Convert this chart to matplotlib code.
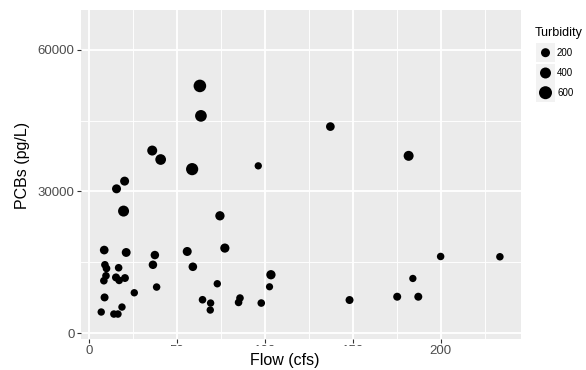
import matplotlib
matplotlib.use('Agg')
import matplotlib.pyplot as plt
from matplotlib.patches import Rectangle
import numpy as np

#%%

flow = [63.1, 63.7, 36.0, 40.8, 58.7, 96.3, 15.7, 20.3, 19.7, 74.5,
        8.7, 21.2, 37.5, 55.9, 77.3, 36.4, 59.1, 9.1, 10.0, 16.9,
        9.7, 8.5, 15.4, 17.2, 20.5, 38.5, 25.8, 8.9, 18.8, 7.0,
        14.2, 16.5, 73.0, 64.6, 69.2, 69.0, 85.9, 85.1, 98.0, 103.5,
        102.7, 137.3, 181.8, 148.2, 175.3, 187.3, 184.2, 200.0, 233.7]

pcbs = [52370, 46020, 38670, 36770, 34730, 35430, 30560, 32190, 25840, 24840,
        17580, 17070, 16520, 17280, 18000, 14460, 14040, 14460, 13680, 13830,
        12130, 11080, 11780, 11150, 11650, 9740, 8530, 7540, 5500, 4450,
        4020, 4020, 10440, 7050, 6350, 4870, 7410, 6480, 6350, 12350,
        9800, 43750, 37550, 6990, 7690, 7690, 11560, 16220, 16160]

turbidity = [560, 470, 300, 370, 520, 30, 200, 200, 400, 230,
             170, 190, 150, 200, 220, 150, 160, 60, 70, 60,
             60, 60, 100, 60, 90, 50, 40, 100, 40, 40,
             50, 50, 40, 60, 40, 40, 60, 60, 60, 230,
             20, 170, 300, 100, 100, 100, 30, 50, 50]

legend_breaks = [200, 400, 600]
x_ticks = [0, 50, 100, 150, 200]
y_ticks = [0, 30000, 60000]

#%%

W, H, DPI = 586, 370, 100


def size_pts(v):
    # diameter in pixels -> marker area in points^2
    d_px = 7 + 0.01 * np.asarray(v, dtype=float)
    return (d_px * 72 / DPI) ** 2


fig = plt.figure(figsize=(W / DPI, H / DPI), dpi=DPI)
plt.rcParams['font.family'] = ['Liberation Sans', 'DejaVu Sans']

# panel in pixels: left 81, right 521, top 10, bottom 339
ax = fig.add_axes([81 / W, 1 - 339 / H, (521 - 81) / W, (339 - 10) / H])
ax.set_facecolor('#EBEBEB')
for s in ax.spines.values():
    s.set_visible(False)

ax.scatter(flow, pcbs, s=size_pts(turbidity), c='black', edgecolors='none', zorder=3)

ax.set_xlim(-4.5, 245.7)
ax.set_ylim(-1270, 68460)
ax.set_xticks(x_ticks)
ax.set_yticks(y_ticks)
ax.set_xticks([25, 75, 125, 175, 225], minor=True)
ax.set_yticks([15000, 45000], minor=True)
ax.grid(which='major', color='white', linewidth=1.3)
ax.grid(which='minor', color='white', linewidth=0.65)
ax.set_axisbelow(True)
ax.tick_params(which='major', length=3, width=0.8, color='#333333',
               labelsize=9.5, labelcolor='#4D4D4D', pad=1.5)
ax.tick_params(which='minor', length=0)

# x title sits on a white box hiding part of the tick labels
fig.patches.append(Rectangle((110 / W, 0), (420 - 110) / W, (H - 346) / H,
                             transform=fig.transFigure, facecolor='white',
                             edgecolor='none', zorder=5))
fig.text(285 / W, 1 - 361 / H, 'Flow (cfs)', ha='center', va='center',
         fontsize=11.5, color='black', zorder=6)
fig.text(22 / W, 1 - 165 / H, 'PCBs (pg/L)', ha='center', va='center',
         rotation=90, fontsize=11.5, color='black')

# legend drawn by hand in pixel coords
lax = fig.add_axes([0, 0, 1, 1], facecolor='none')
lax.set_xlim(0, W)
lax.set_ylim(H, 0)
lax.axis('off')
lax.text(535, 33, 'Turbidity', ha='left', va='center', fontsize=9)
key_y = [52.7, 73.0, 92.7]
for yy, b in zip(key_y, legend_breaks):
    lax.add_patch(Rectangle((536, yy - 9.5), 19, 19, facecolor='#F2F2F2', edgecolor='none'))
    lax.scatter([545.5], [yy], s=size_pts(b), c='black', edgecolors='none')
    lax.text(557, yy, str(b), ha='left', va='center', fontsize=7)

fig.savefig('out.png', dpi=DPI)
